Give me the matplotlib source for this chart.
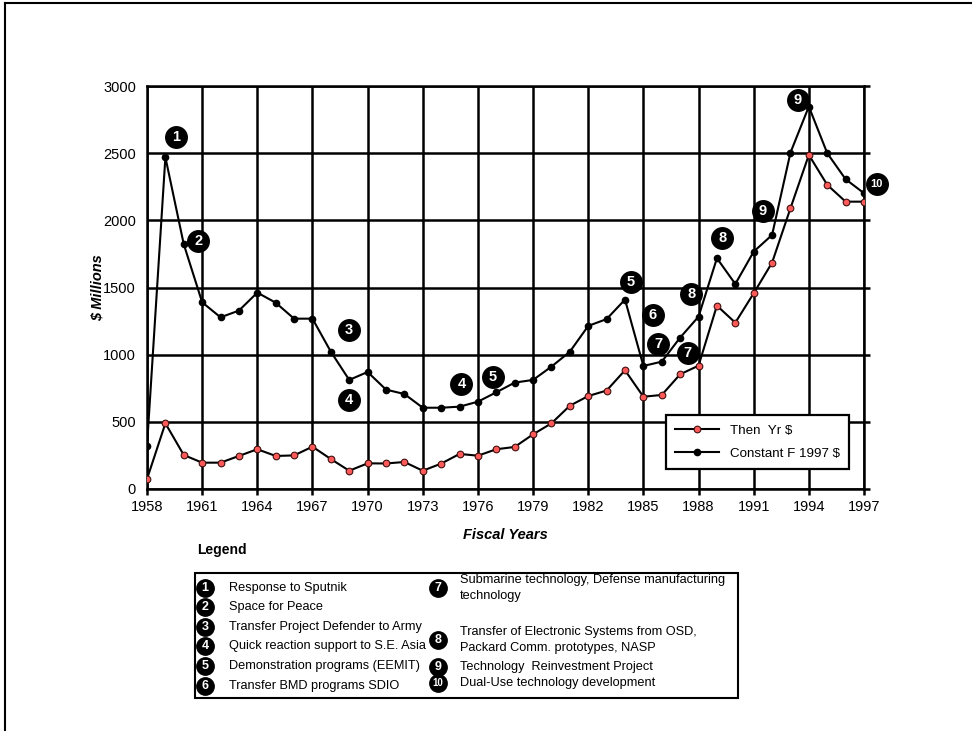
import matplotlib
matplotlib.use("Agg")
import matplotlib.pyplot as plt
from matplotlib.lines import Line2D
import numpy as np

plt.rcParams['font.family'] = ['Liberation Sans', 'DejaVu Sans']

years = list(range(1958, 1998))
then_yr = [74, 489, 253, 196, 196, 246, 296, 246, 250, 315,
           223, 136, 191, 190, 201, 136, 189, 261, 248, 296,
           313, 407, 489, 620, 692, 733, 884, 687, 700, 854,
           918, 1365, 1238, 1457, 1685, 2090, 2487, 2264, 2139, 2139]
constant_97 = [320, 2470, 1822, 1390, 1278, 1328, 1462, 1387, 1268, 1268,
               1022, 812, 871, 740, 707, 605, 605, 613, 650, 720,
               792, 812, 911, 1022, 1214, 1265, 1410, 916, 948, 1127,
               1283, 1718, 1526, 1767, 1891, 2504, 2847, 2500, 2306, 2202]

# numbered event badges on the chart: (label, year, value)
badge_labels = ['1', '2', '3', '4', '4', '5', '5', '6', '7', '8', '7', '8', '9', '9', '10']
badge_years = [1959.6, 1960.8, 1969.0, 1969.0, 1975.1, 1976.8, 1984.3, 1985.5,
               1985.8, 1987.6, 1987.4, 1989.3, 1991.5, 1993.4, 1997.7]
badge_values = [2619, 1847, 1184, 663, 782, 832, 1541, 1298, 1080, 1452,
                1010, 1869, 2068, 2896, 2271]

legend_items = [
    ('1', ['Response to Sputnik']),
    ('2', ['Space for Peace']),
    ('3', ['Transfer Project Defender to Army']),
    ('4', ['Quick reaction support to S.E. Asia']),
    ('5', ['Demonstration programs (EEMIT)']),
    ('6', ['Transfer BMD programs SDIO']),
    ('7', ['Submarine technology, Defense manufacturing', 'technology']),
    ('8', ['Transfer of Electronic Systems from OSD,', 'Packard Comm. prototypes, NASP']),
    ('9', ['Technology  Reinvestment Project']),
    ('10', ['Dual-Use technology development']),
]

W, H = 972, 731
fig = plt.figure(figsize=(W / 100, H / 100), dpi=100)


def fx(px):
    return px / W


def fy(py):
    return 1 - py / H


# outer frame (left and top only)
fig.add_artist(Line2D([fx(5), fx(5)], [fy(3), 0], color='black', lw=1.5, transform=fig.transFigure))
fig.add_artist(Line2D([fx(5), 1], [fy(3), fy(3)], color='black', lw=1.5, transform=fig.transFigure))

ax = fig.add_axes([fx(147), fy(489), fx(864) - fx(147), fy(86) - fy(489)])
ax.plot(years, constant_97, color='black', lw=1.5, marker='o', ms=4.5,
        mfc='black', mec='black', label='Constant F 1997 $', zorder=4)
ax.plot(years, then_yr, color='black', lw=1.5, marker='o', ms=4.8,
        mfc='#ff5a5a', mec='#401010', mew=0.8, label='Then  Yr $', zorder=4)

ax.set_xlim(1958, 1997)
ax.set_ylim(0, 3000)
ax.set_xticks(np.arange(1958, 1998, 3))
ax.set_yticks(np.arange(0, 3001, 500))
ax.grid(True, color='black', lw=1.8)
ax.set_axisbelow(True)
for s in ax.spines.values():
    s.set_linewidth(1.8)
ax.tick_params(axis='x', direction='out', length=4, width=1.8, labelsize=10.5, pad=4)
ax.tick_params(axis='y', left=False, right=True, labelleft=True, direction='out',
               length=4, width=1.8, labelsize=10.5, pad=4)
ax.set_xlabel('Fiscal Years', fontsize=10.5, fontweight='bold', style='italic', labelpad=10)
ax.set_ylabel('$ Millions', fontsize=10.5, fontweight='bold', style='italic', labelpad=-1)

for lab, bx, by in zip(badge_labels, badge_years, badge_values):
    ax.plot([bx], [by], marker='o', ms=15.5, color='black', clip_on=False, zorder=6)
    fs = 8 if len(lab) > 1 else 10.5
    ax.text(bx, by, lab, color='white', fontsize=fs, fontweight='bold',
            ha='center', va='center', clip_on=False, zorder=7)

handles, labels = ax.get_legend_handles_labels()
leg = ax.legend(handles[::-1], labels[::-1], loc='lower right', bbox_to_anchor=(0.989, 0.032),
                fontsize=9.6, frameon=True, fancybox=False, edgecolor='black', framealpha=1,
                handlelength=3.3, borderpad=0.7, labelspacing=0.8)
leg.get_frame().set_linewidth(1.6)
leg.set_zorder(8)

# bottom legend
fig.text(fx(197), fy(550), 'Legend', fontsize=10, fontweight='bold', ha='left', va='center')
fig.add_artist(plt.Rectangle((fx(195), fy(698)), fx(738) - fx(195), fy(573) - fy(698),
                             fill=False, edgecolor='black', lw=1.5, transform=fig.transFigure))
left_rows = [588, 607, 627, 646, 666, 686]
right_rows = [588, 640, 667, 683]
row_pos = [(205, r, 24) for r in left_rows] + [(438, r, 22) for r in right_rows]
for (num, lines), (ix, iy, off) in zip(legend_items, row_pos):
    fig.add_artist(Line2D([fx(ix)], [fy(iy)], marker='o', ms=12.5, color='black',
                          transform=fig.transFigure))
    fs = 7 if len(num) > 1 else 9
    fig.text(fx(ix), fy(iy), num, color='white', fontsize=fs, fontweight='bold',
             ha='center', va='center')
    if len(lines) == 1:
        fig.text(fx(ix + off), fy(iy), lines[0], fontsize=9.2, ha='left', va='center')
    else:
        fig.text(fx(ix + off), fy(iy - 8), lines[0], fontsize=9.2, ha='left', va='center')
        fig.text(fx(ix + off), fy(iy + 8), lines[1], fontsize=9.2, ha='left', va='center')

fig.savefig('out.png', dpi=100)
